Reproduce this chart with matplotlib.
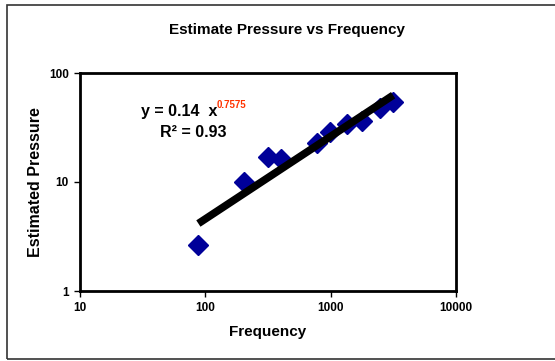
import numpy as np
import matplotlib.pyplot as plt
from matplotlib.patches import Rectangle

# дані
frequency = [88, 202, 315, 403, 783, 987, 1360, 1793, 2480, 3150]
pressure = [2.62, 9.9, 16.9, 16.1, 23.0, 28.7, 33.8, 36.0, 48.1, 54.2]

# параметри степеневого тренду (як у підписі)
coef = 0.14
power = 0.7575
r2 = 0.93

plt.rcParams['font.family'] = ['Liberation Sans', 'DejaVu Sans']
plt.rcParams['font.weight'] = 'bold'

W, H = 555, 361
fig = plt.figure(figsize=(W / 100, H / 100), dpi=100)

# рамка навколо всієї діаграми
fig.patches.append(Rectangle((7 / W, 1 - 359 / H), 1.0, (359 - 5) / H,
                             transform=fig.transFigure, fill=False,
                             edgecolor='#333333', linewidth=1.2, clip_on=False))

ax = fig.add_axes([80 / W, 1 - 291 / H, (456 - 80) / W, (291 - 73) / H])
ax.set_xscale('log')
ax.set_yscale('log')
ax.set_xlim(10, 10000)
ax.set_ylim(1, 100)

ax.plot(frequency, pressure, linestyle='none', marker='D', markersize=10,
        color='#000099', zorder=2)

x_fit = np.geomspace(min(frequency), max(frequency), 200)
ax.plot(x_fit, coef * x_fit ** power, color='black', linewidth=5.5,
        solid_capstyle='butt', zorder=3)

for s in ax.spines.values():
    s.set_linewidth(2)
ax.minorticks_off()
ax.set_xticks([10, 100, 1000, 10000], ['10', '100', '1000', '10000'])
ax.set_yticks([1, 10, 100], ['1', '10', '100'])
ax.tick_params(direction='out', length=4, width=1, labelsize=8.5, pad=4)
ax.tick_params(axis='y', pad=4)

ax.set_xlabel('Frequency', fontsize=11, fontweight='bold', labelpad=8)
ax.set_ylabel('Estimated Pressure', fontsize=11.5, fontweight='bold', labelpad=4)

fig.text(287 / W, 1 - 30 / H, 'Estimate Pressure vs Frequency', ha='center',
         va='center', fontsize=11, fontweight='bold')

# рівняння тренду
fig.text(141 / W, 1 - 112 / H, f'y = {coef:g}  x', ha='left', va='center',
         fontsize=11.5, fontweight='bold')
fig.text(217 / W, 1 - 105 / H, f'{power:g}', ha='left', va='center',
         fontsize=7, fontweight='bold', color='#ff3300')
fig.text(160 / W, 1 - 132 / H, f'R\u00b2 = {r2:g}', ha='left', va='center',
         fontsize=11.5, fontweight='bold')

fig.savefig('out.png', dpi=100)
